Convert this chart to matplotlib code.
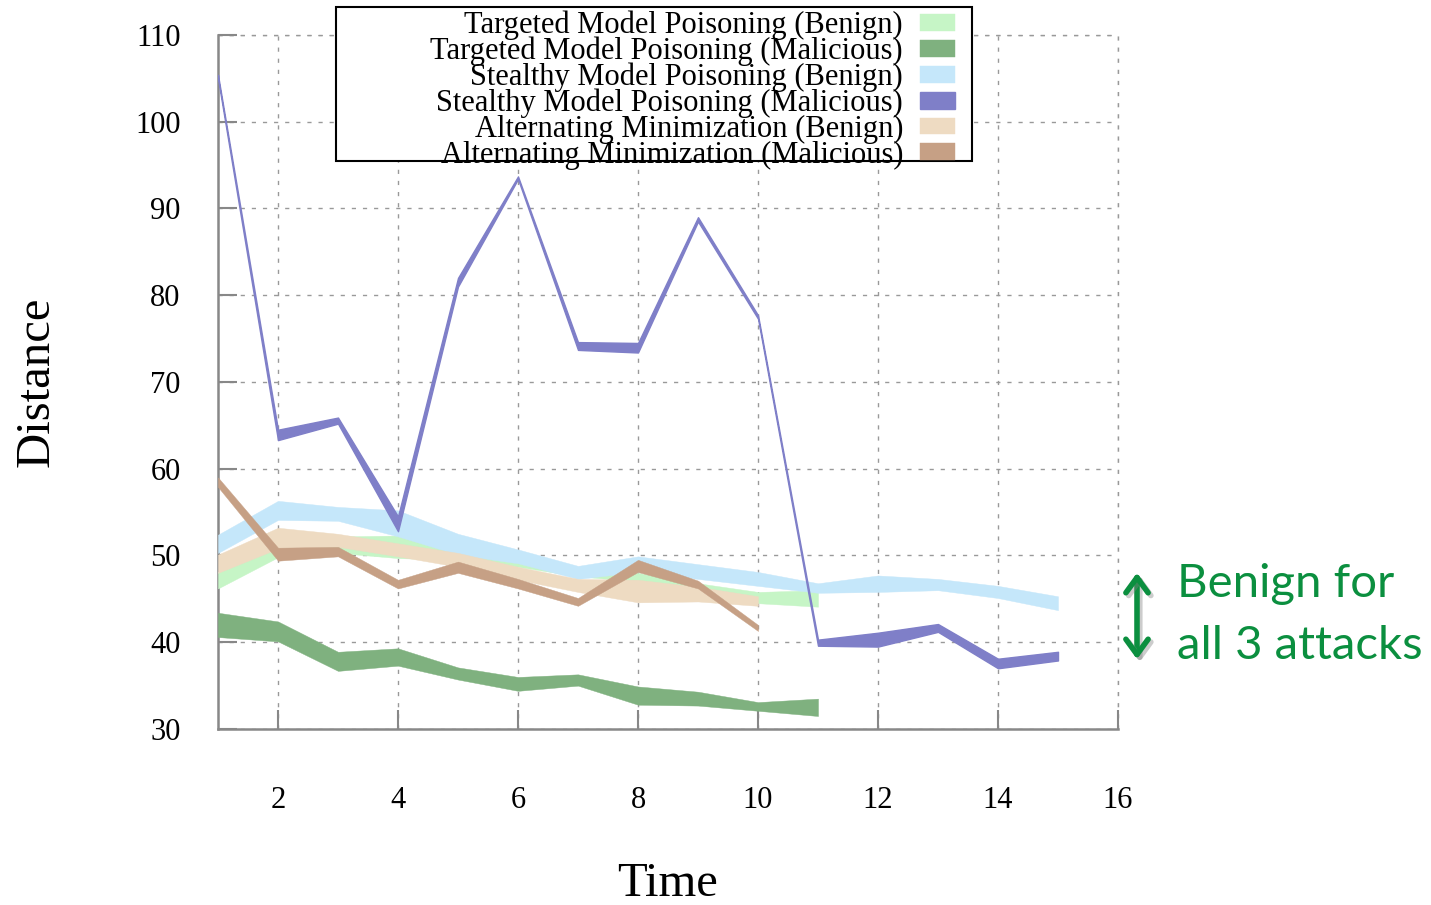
import matplotlib
matplotlib.use("Agg")
import matplotlib.pyplot as plt
import matplotlib.patheffects as pe
from matplotlib.patches import Rectangle, FancyArrowPatch

# ---------------- data ----------------
t_tmp = [1, 2, 3, 4, 5, 6, 7, 8, 9, 10, 11]
tmp_benign_hi = [48.1, 51.2, 52.2, 52.3, 50.3, 49.3, 48.6, 48.0, 46.8, 45.8, 46.0]
tmp_benign_lo = [46.2, 49.8, 50.3, 49.7, 49.5, 48.7, 47.6, 47.0, 45.7, 44.5, 44.1]
tmp_mal_hi = [43.4, 42.4, 38.9, 39.3, 37.1, 36.0, 36.3, 34.9, 34.3, 33.1, 33.5]
tmp_mal_lo = [40.6, 40.1, 36.7, 37.3, 35.7, 34.4, 35.0, 32.8, 32.7, 32.1, 31.5]

t_smp = [1, 2, 3, 4, 5, 6, 7, 8, 9, 10, 11, 12, 13, 14, 15]
smp_benign_hi = [52.4, 56.3, 55.6, 55.2, 52.5, 50.7, 48.8, 49.9, 49.0, 48.1, 46.8, 47.7, 47.3, 46.5, 45.3]
smp_benign_lo = [50.3, 54.1, 54.0, 52.2, 50.1, 49.1, 47.3, 48.1, 47.3, 46.5, 45.7, 45.8, 46.0, 45.1, 43.7]
smp_mal_hi = [105.4, 64.5, 65.9, 54.5, 82.0, 93.7, 74.6, 74.5, 89.0, 77.7, 40.3, 41.1, 42.1, 38.1, 38.9]
smp_mal_lo = [105.0, 63.3, 65.2, 52.8, 81.0, 93.4, 73.7, 73.4, 88.5, 77.3, 39.6, 39.5, 41.2, 37.0, 37.9]

t_am = [1, 2, 3, 4, 5, 6, 7, 8, 9, 10]
am_benign_hi = [50.1, 53.2, 52.5, 51.4, 50.3, 48.7, 47.3, 47.2, 46.4, 45.3]
am_benign_lo = [48.0, 50.8, 51.0, 49.9, 48.7, 47.2, 45.8, 44.6, 44.7, 44.2]
am_mal_hi = [59.0, 50.9, 51.0, 47.2, 49.3, 47.3, 45.1, 49.5, 47.1, 42.0]
am_mal_lo = [57.9, 49.4, 49.9, 46.2, 48.0, 46.2, 44.2, 48.1, 46.2, 41.3]

labels = [
    "Targeted Model Poisoning (Benign)",
    "Targeted Model Poisoning (Malicious)",
    "Stealthy Model Poisoning (Benign)",
    "Stealthy Model Poisoning (Malicious)",
    "Alternating Minimization (Benign)",
    "Alternating Minimization (Malicious)",
]
colors = ["#c6f5c6", "#7fb17f", "#c5e7fa", "#7f7fc8", "#eedbc2", "#c6a085"]

x_ticks = [2, 4, 6, 8, 10, 12, 14, 16]
y_ticks = [30, 40, 50, 60, 70, 80, 90, 100, 110]

# ---------------- figure ----------------
serif = ["Liberation Serif", "DejaVu Serif"]
plt.rcParams["font.family"] = serif

W, H = 1431, 905
fig = plt.figure(figsize=(W / 100, H / 100), dpi=100)
ax = fig.add_axes([218 / W, 1 - 729 / H, 900 / W, 694 / H])

series = [
    (t_tmp, tmp_benign_lo, tmp_benign_hi),
    (t_tmp, tmp_mal_lo, tmp_mal_hi),
    (t_smp, smp_benign_lo, smp_benign_hi),
    (t_smp, smp_mal_lo, smp_mal_hi),
    (t_am, am_benign_lo, am_benign_hi),
    (t_am, am_mal_lo, am_mal_hi),
]
for i, ((t, lo, hi), c, lab) in enumerate(zip(series, colors, labels)):
    lw = 1.0 if i == 3 else 0.3
    ax.fill_between(t, lo, hi, facecolor=c, edgecolor=c, linewidth=lw,
                    label=lab, zorder=3 + i)

ax.set_xlim(1, 16)
ax.set_ylim(30, 110)
ax.set_xticks(x_ticks)
ax.set_yticks(y_ticks)
ax.tick_params(axis="both", direction="in", length=14, width=1.5,
               color="#888888", labelsize=22)
ax.tick_params(axis="x", pad=41)
ax.tick_params(axis="y", pad=27)

gls = (0, (3, 5))
ax.grid(True, linestyle=gls, color="#999999", linewidth=1.0, zorder=1)
for s in ["top", "right"]:
    ax.spines[s].set_visible(False)
for s in ["left", "bottom"]:
    ax.spines[s].set_color("#888888")
    ax.spines[s].set_linewidth(1.8)
ax.axhline(110, linestyle=gls, color="#999999", linewidth=1.0, zorder=1, clip_on=False)
ax.axvline(16, linestyle=gls, color="#999999", linewidth=1.0, zorder=1, clip_on=False)

ax.set_xlabel("Time", fontsize=35)
ax.set_ylabel("Distance", fontsize=35)
ax.xaxis.set_label_coords(0.5, -0.192)
ax.yaxis.set_label_coords(-0.177, 0.5)

# legend frame (drawn separately so it spans the reference box)
frame = Rectangle((336 / W, 1 - 161 / H), 636 / W, 154 / H, transform=fig.transFigure,
                  facecolor="white", edgecolor="black", linewidth=1.5,
                  clip_on=False, zorder=19)
ax.add_patch(frame)

leg = ax.legend(loc="upper right", bbox_to_anchor=(955 / W, 1 - 11 / H),
                bbox_transform=fig.transFigure, markerfirst=False,
                fontsize=22, frameon=False, handlelength=1.15, handleheight=0.45,
                labelspacing=-0.115, borderpad=0, handletextpad=0.55,
                borderaxespad=0)
leg.set_zorder(20)

# annotation
green = "#0b8f3f"
arr = FancyArrowPatch((1137 / W, 1 - 570 / H), (1137 / W, 1 - 662 / H),
                      transform=fig.transFigure,
                      arrowstyle="<->,head_length=11,head_width=8",
                      color=green, linewidth=4, mutation_scale=1)
arr.set_path_effects([pe.SimpleLineShadow(offset=(2, -2), shadow_color="gray", alpha=0.4),
                      pe.Normal()])
fig.add_artist(arr)
fig.text(1177 / W, 1 - 597 / H, "Benign for", fontsize=34, color=green,
         family=["Lato", "DejaVu Sans"], ha="left", va="baseline")
fig.text(1177 / W, 1 - 659 / H, "all 3 attacks", fontsize=34, color=green,
         family=["Lato", "DejaVu Sans"], ha="left", va="baseline")

fig.savefig("out.png", dpi=100)
